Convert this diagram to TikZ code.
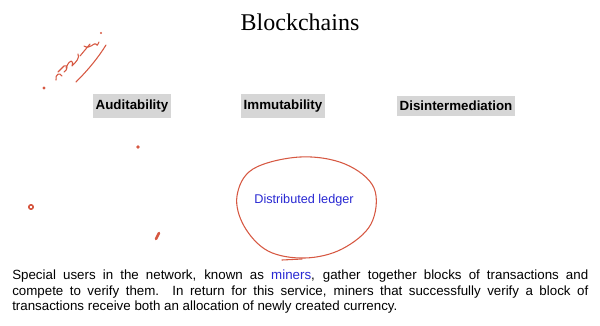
\documentclass[tikz,border=0pt]{standalone}
\usepackage{fontspec}
\setmainfont{Liberation Serif}
\setsansfont{Liberation Sans}
\definecolor{pen}{RGB}{214,88,66}
\definecolor{tag}{RGB}{214,214,214}
\definecolor{link}{RGB}{40,40,210}
\tikzset{
  keyword/.style={fill=tag,font=\sffamily\bfseries\fontsize{10}{12}\selectfont,inner xsep=2pt,inner ysep=4pt},
  ink/.style={pen,line width=0.8pt,line cap=round,line join=round}
}
\begin{document}
\begin{tikzpicture}[x=0.75pt,y=-0.75pt]
	\useasboundingbox (0,0) rectangle (600,325);
	% title
	\node (title) at (300,22) {\fontsize{18}{20}\selectfont Blockchains};
	% properties
	\node[keyword] (audit) at (132,106) {Auditability};
	\node[keyword] (immut) at (283,106) {Immutability};
	\node[keyword] (disint) at (456,106) {Disintermediation};
	% ledger and hand drawn loop
	\node[text=link,font=\sffamily\fontsize{9.5}{11}\selectfont] (ledger) at (304,200) {Distributed ledger};
	\draw[ink] plot[smooth cycle,tension=0.6] coordinates {(300,157) (345,164) (374,188) (371,224) (342,249) (305,258) (268,251) (244,226) (237,196) (253,169)};
	\draw[ink] (282,260) -- (302,259);
	% handwritten note
	\fill[pen] (44,88) circle (1.6);
	\draw[ink] (56,80) .. controls (55,74) and (60,72) .. (62,76) (58,72) -- (64,66) .. controls (68,64) and (68,70) .. (64,72);
	\draw[ink] (66,68) .. controls (70,58) and (74,60) .. (72,66) .. controls (76,62) and (80,58) .. (78,54);
	\draw[ink] (80,56) -- (90,44) (84,46) .. controls (90,50) and (94,42) .. (96,44) .. controls (97,46) .. (99,42);
	\draw[ink] (76,82) .. controls (88,70) and (98,58) .. (106,45);
	\fill[pen] (101,33) circle (1.2);
	% stray marks
	\fill[pen] (138,147) circle (1.8);
	\draw[ink,line width=1.2pt] (31,207) circle (2.2);
	\draw[ink,line width=2pt] (156,239) -- (159,233);
	% description
	\node[anchor=north west,inner sep=0pt,text width=432pt,align=justify,font=\sffamily\fontsize{10}{11.6}\selectfont] (text) at (12,270)
	{Special users in the network, known as \textcolor{link}{miners}, gather together blocks of transactions and\linebreak compete to verify them. In return for this service, miners that successfully verify a block of\linebreak transactions receive both an allocation of newly created currency.};
\end{tikzpicture}
\end{document}
